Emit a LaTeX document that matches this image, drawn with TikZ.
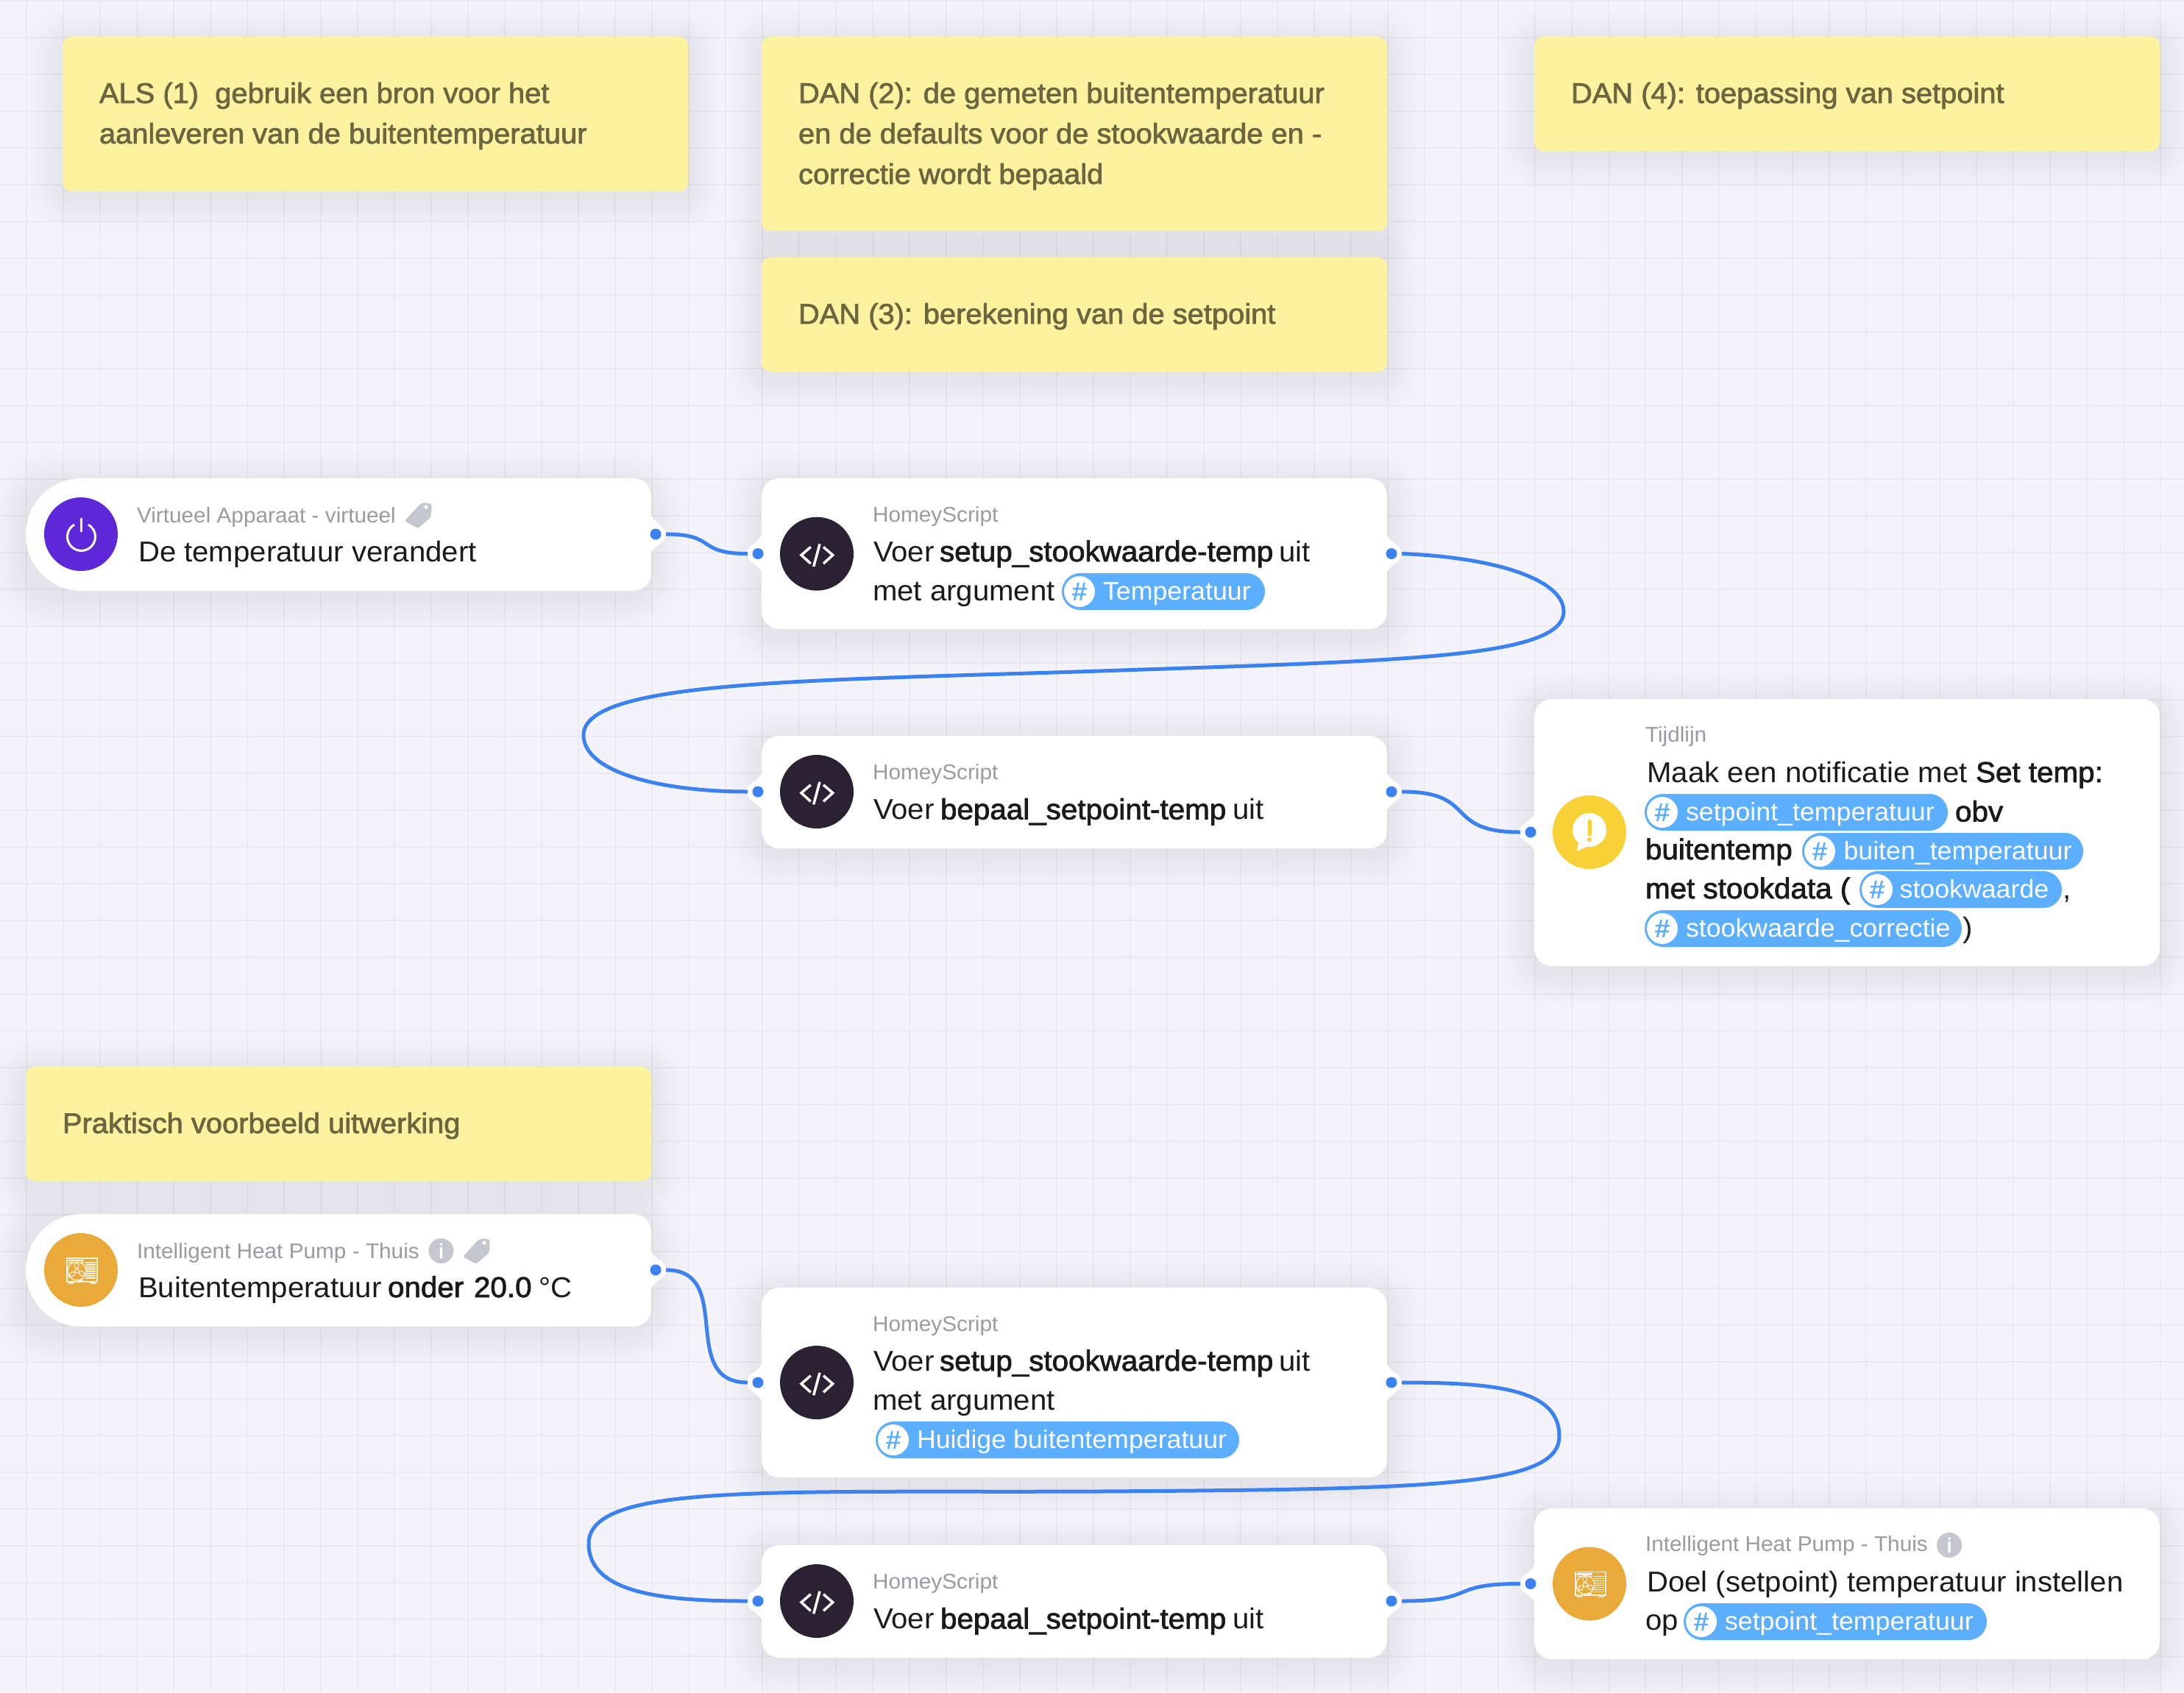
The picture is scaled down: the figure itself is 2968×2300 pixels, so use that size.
\documentclass[tikz,border=0pt]{standalone}
\usepackage{fontspec}
\setmainfont{Liberation Sans}[FakeStretch=1.03]
\newfontface\medf{Liberation Sans}[FakeBold=2,FakeStretch=1.03]
\definecolor{bgc}{HTML}{F3F3F9}
\definecolor{gridc}{HTML}{E9E9F0}
\definecolor{notec}{HTML}{FDF29F}
\definecolor{notetxtc}{HTML}{6B6640}
\definecolor{tagc}{HTML}{5CAEFF}
\definecolor{linec}{HTML}{3B82F0}
\definecolor{mainc}{HTML}{1A1A1C}
\definecolor{smallc}{HTML}{9A9AA2}
\definecolor{greyi}{HTML}{C5C6CF}
\definecolor{purplec}{HTML}{5E28D9}
\definecolor{darkc}{HTML}{2A2233}
\definecolor{yellowc}{HTML}{F8D136}
\definecolor{orangec}{HTML}{E9AA39}
\tikzset{
  textnode/.style={anchor=base west,inner sep=0pt,outer sep=0pt},
  maintxt/.style={textnode,text=mainc,font=\fontsize{39}{39}\selectfont},
  medtxt/.style={textnode,text=mainc,font=\fontsize{39.2}{39}\selectfont\medf},
  smalltxt/.style={textnode,text=smallc,font=\fontsize{28.9}{30}\selectfont},
  notetxt/.style={textnode,text=notetxtc,font=\fontsize{38.7}{38}\selectfont\medf},
  tagtxt/.style={textnode,text=white,font=\fontsize{34.7}{36}\selectfont},
  cardbox/.style={rectangle,fill=white,rounded corners=24pt,inner sep=0pt,outer sep=0pt},
  notebox/.style={rectangle,fill=notec,rounded corners=12pt,inner sep=0pt,outer sep=0pt},
  iconc/.style={circle,minimum size=100pt,inner sep=0pt,outer sep=0pt},
  portn/.style={circle,minimum size=28pt,inner sep=0pt,outer sep=0pt},
  portdot/.style={circle,fill=linec,minimum size=15pt,inner sep=0pt},
  conn/.style={draw=linec,line width=5pt,line cap=butt},
  hash/.style={circle,fill=white,minimum size=42pt,inner sep=0pt,text=tagc,font=\fontsize{34}{34}\selectfont\medf},
  infoc/.style={circle,fill=greyi,minimum size=34pt,inner sep=0pt,text=white,font=\fontsize{28}{28}\selectfont\medf},
}
\newcommand\softshadow[5]{%
  \foreach \s in {3,6,...,45}{%
    \fill[black,opacity=.0042,rounded corners={#5+\s*1pt}] ({#1-\s},{#2-\s+8}) rectangle ({#3+\s},{#4+\s+8});
  }}
\newcommand\bump[3]{%
  \fill[white] (#1,{#2-25}) .. controls ({#1+#3*5},{#2-14}) and ({#1+#3*20},{#2-12}) .. ({#1+#3*20},#2)
     .. controls ({#1+#3*20},{#2+12}) and ({#1+#3*5},{#2+14}) .. (#1,{#2+25}) -- cycle;}
\newcommand\tagpill[6]{% name x0 x1 ytop textx text
  \fill[tagc,rounded corners=25pt] (#2,#4) rectangle (#3,{#4+50});
  \node[hash] (#1c) at ({#2+24},{#4+25}) {\#};
  \node[tagtxt] (#1) at (#5,{#4+36}) {#6};}
\newcommand\codeicon[2]{%
  \begin{scope}[shift={(#1,#2)},draw=white,line width=3.5pt]
    \draw (-8.3,-9.3) -- (-21,1.7) -- (-8.3,13.3);
    \draw (4,-13.3) -- (-4.3,17.3);
    \draw (9,-9.3) -- (21.7,1.7) -- (9,13.3);
  \end{scope}}
\newcommand\pumpicon[2]{%
  \begin{scope}[shift={(#1,#2)},draw=white!85!orangec,line width=1.2pt]
    \draw[line width=1.6pt] (-19,-16) rectangle (21.7,15.7);
    \fill[white!85!orangec] (-17,-14.5) rectangle (4,-12);
    \foreach \yy in {-10,-7,...,12}{\draw (6,\yy) -- (20,\yy);}
    \foreach \yy in {-10,-6,...,12}{\draw (-17,\yy) -- (4,\yy);}
    \fill[orangec] (-5.5,1.5) circle (12.5);
    \draw (-5.5,1.5) circle (12.5);
    \draw (-5.5,1.5) circle (3);
    \foreach \a in {90,210,330}{\draw[rotate around={\a:(-5.5,1.5)}] (-2.5,1.5) .. controls (0,-3) and (5,-3) .. (6,1.5) .. controls (4,5) and (0,4) .. (-2.5,1.5);}
    \fill[white!85!orangec] (-4,12.8) rectangle (3,14.6);
    \draw[line width=1.6pt] (-16,15.7) -- (-16,18) -- (-11,18) -- (-11,15.7);
    \draw[line width=1.6pt] (14,15.7) -- (14,18) -- (19,18) -- (19,15.7);
  \end{scope}}
\newcommand\tagicon[2]{%
  \begin{scope}[shift={(#1,#2)}]
    \fill[greyi,rounded corners=2.5pt] (9,-17) -- (19,-15) -- (17.5,3) -- (0,18) -- (-18,8) -- (3,-15) -- cycle;
    \fill[white] (11,-11) circle (2.6);
  \end{scope}}
\newcommand\triggercard[3]{% x-left y-top y-bottom
  \softshadow{#1}{#2}{885}{#3}{40pt}
  \fill[white,rounded corners=76pt] (#1,#2) -- (#1,#3) -- (300,#3) -- (300,#2) -- cycle;
  \fill[white,rounded corners=24pt] (200,#2) rectangle (885,#3);}
\begin{document}
\begin{tikzpicture}[x=1pt,y=-1pt]
\useasboundingbox (0,0) rectangle (2968,2300);
\fill[bgc] (0,0) rectangle (2968,2300);
\foreach \x in {36,86,...,2936}{\draw[gridc,line width=1.8pt] (\x,0) -- (\x,2300);}
\foreach \y in {1,51,...,2251}{\draw[gridc,line width=1.8pt] (0,\y) -- (2968,\y);}

% ---- sticky notes
\softshadow{85}{50}{935}{260}{12pt}
\node[notebox,minimum width=850pt,minimum height=210pt] (note1) at (510,155) {};
\softshadow{1035}{50}{1885}{314}{12pt}
\node[notebox,minimum width=850pt,minimum height=264pt] (note2) at (1460,182) {};
\softshadow{2085}{50}{2935}{205}{12pt}
\node[notebox,minimum width=850pt,minimum height=155pt] (note4) at (2510,127.5) {};
\softshadow{1035}{350}{1885}{505}{12pt}
\node[notebox,minimum width=850pt,minimum height=155pt] (note3) at (1460,427.5) {};
\softshadow{35}{1450}{885}{1605}{12pt}
\node[notebox,minimum width=850pt,minimum height=155pt] (note5) at (460,1527.5) {};

\node[notetxt] (n1a) at (135,140) {ALS (1)\ \ gebruik een bron voor het};
\node[notetxt] (n1b) at (135,195) {aanleveren van de buitentemperatuur};
\node[notetxt] (n2a) at (1085,140) {DAN (2): de gemeten buitentemperatuur};
\node[notetxt] (n2b) at (1085,195) {en de defaults voor de stookwaarde en -};
\node[notetxt] (n2c) at (1085,250) {correctie wordt bepaald};
\node[notetxt] (n4a) at (2135,140) {DAN (4): toepassing van setpoint};
\node[notetxt] (n3a) at (1085,440) {DAN (3): berekening van de setpoint};
\node[notetxt] (n5a) at (85,1540) {Praktisch voorbeeld uitwerking};

% ---- trigger 1
\triggercard{35}{650}{803}
\bump{885}{726}{1}
\node[iconc,fill=purplec] (i1) at (110,726) {};
\draw[white,line width=3pt] (101,713) arc[start angle=-120,end angle=-420,radius=19];
\draw[white,line width=3pt,line cap=round] (110,705) -- (110,722);
\node[smalltxt] (t1a) at (186,710) {Virtueel Apparaat - virtueel};
\tagicon{568}{700}
\node[maintxt] (t1b) at (188,763) {De temperatuur verandert};

% ---- script 1
\softshadow{1035}{650}{1885}{855}{24pt}
\bump{1035}{752.5}{-1}\bump{1885}{752.5}{1}
\node[cardbox,minimum width=850pt,minimum height=205pt] (a1) at (1460,752.5) {};
\node[iconc,fill=darkc] (i2) at (1110,752.7) {};
\codeicon{1110}{752.7}
\node[smalltxt] (a1a) at (1186,709) {HomeyScript};
\node[maintxt] (a1b) at (1187,763) {Voer};
\node[medtxt] (a1c) at (1277,763) {setup\_stookwaarde-temp};
\node[maintxt] (a1d) at (1738,763) {uit};
\node[maintxt] (a1e) at (1186,816) {met argument};
\tagpill{a1t}{1443}{1719}{779}{1499}{Temperatuur}

% ---- script 2
\softshadow{1035}{1000}{1885}{1153}{24pt}
\bump{1035}{1076}{-1}\bump{1885}{1076}{1}
\node[cardbox,minimum width=850pt,minimum height=153pt] (a2) at (1460,1076.5) {};
\node[iconc,fill=darkc] (i3) at (1110,1076) {};
\codeicon{1110}{1076}
\node[smalltxt] (a2a) at (1186,1059) {HomeyScript};
\node[maintxt] (a2b) at (1187,1113.5) {Voer};
\node[medtxt] (a2c) at (1278,1113.5) {bepaal\_setpoint-temp};
\node[maintxt] (a2d) at (1675,1113.5) {uit};

% ---- timeline card
\softshadow{2085}{950}{2935}{1313}{24pt}
\bump{2085}{1131}{-1}
\node[cardbox,minimum width=850pt,minimum height=363pt] (tc) at (2510,1131.5) {};
\node[iconc,fill=yellowc] (i4) at (2160,1131) {};
\fill[white] (2160,1128) circle (23);
\fill[white] (2146,1140) -- (2143,1157) -- (2162,1148) -- cycle;
\draw[yellowc,line width=5pt,line cap=round] (2160,1116) -- (2160,1134);
\fill[yellowc] (2160,1141) circle (3);
\node[smalltxt] (tca) at (2236,1008) {Tijdlijn};
\node[maintxt] (tcb) at (2238.5,1063) {Maak een notificatie met};
\node[medtxt] (tcc) at (2685,1063) {Set temp:};
\tagpill{tct1}{2235}{2647}{1079}{2291}{setpoint\_temperatuur}
\node[medtxt] (tcd) at (2657,1116.5) {obv};
\node[medtxt] (tce) at (2236,1168) {buitentemp};
\tagpill{tct2}{2449}{2831}{1132}{2505.5}{buiten\_temperatuur}
\node[medtxt] (tcf) at (2236,1221) {met stookdata (};
\tagpill{tct3}{2527}{2802}{1184}{2581.6}{stookwaarde}
\node[maintxt] (tcg) at (2803,1221) {,};
\tagpill{tct4}{2235}{2666}{1237}{2291}{stookwaarde\_correctie}
\node[maintxt] (tch) at (2667,1274) {)};

% ---- trigger 2
\triggercard{35}{1650}{1803}
\bump{885}{1726}{1}
\node[iconc,fill=orangec] (i5) at (110,1726) {};
\pumpicon{110}{1726}
\node[smalltxt] (t2a) at (186,1710) {Intelligent Heat Pump - Thuis};
\node[infoc] (t2i) at (599.5,1700) {i};
\tagicon{647}{1700}
\node[maintxt] (t2b) at (188,1763) {Buitentemperatuur};
\node[medtxt] (t2c) at (527,1763) {onder};
\node[medtxt] (t2d) at (644,1763) {20.0};
\node[maintxt] (t2e) at (732,1763) {°C};

% ---- script 3
\softshadow{1035}{1750}{1885}{2008}{24pt}
\bump{1035}{1879}{-1}\bump{1885}{1879}{1}
\node[cardbox,minimum width=850pt,minimum height=258pt] (a3) at (1460,1879) {};
\node[iconc,fill=darkc] (i6) at (1110,1879) {};
\codeicon{1110}{1879}
\node[smalltxt] (a3a) at (1186,1809) {HomeyScript};
\node[maintxt] (a3b) at (1187,1863) {Voer};
\node[medtxt] (a3c) at (1277,1863) {setup\_stookwaarde-temp};
\node[maintxt] (a3d) at (1738,1863) {uit};
\node[maintxt] (a3e) at (1186,1916) {met argument};
\tagpill{a3t}{1190}{1684}{1932}{1246}{Huidige buitentemperatuur}

% ---- script 4
\softshadow{1035}{2100}{1885}{2253}{24pt}
\bump{1035}{2176}{-1}\bump{1885}{2176}{1}
\node[cardbox,minimum width=850pt,minimum height=153pt] (a4) at (1460,2176.5) {};
\node[iconc,fill=darkc] (i7) at (1110,2176) {};
\codeicon{1110}{2176}
\node[smalltxt] (a4a) at (1186,2159) {HomeyScript};
\node[maintxt] (a4b) at (1187,2213.5) {Voer};
\node[medtxt] (a4c) at (1278,2213.5) {bepaal\_setpoint-temp};
\node[maintxt] (a4d) at (1675,2213.5) {uit};

% ---- heat pump action
\softshadow{2085}{2050}{2935}{2255}{24pt}
\bump{2085}{2152.5}{-1}
\node[cardbox,minimum width=850pt,minimum height=205pt] (hc) at (2510,2152.5) {};
\node[iconc,fill=orangec] (i8) at (2160,2152.5) {};
\pumpicon{2160}{2152.5}
\node[smalltxt] (hca) at (2236,2108) {Intelligent Heat Pump - Thuis};
\node[infoc] (hci) at (2649,2100) {i};
\node[maintxt] (hcb) at (2238,2163) {Doel (setpoint) temperatuur instellen};
\node[maintxt] (hcc) at (2236,2215) {op};
\tagpill{hct}{2288}{2700}{2179}{2344}{setpoint\_temperatuur}

% ---- ports
\node[portn] (p1o) at (891,726) {};
\node[portn] (p2i) at (1030,752.5) {};
\node[portn] (p2o) at (1891,752.5) {};
\node[portn] (p3i) at (1030,1076) {};
\node[portn] (p3o) at (1891,1076) {};
\node[portn] (p4i) at (2080,1131) {};
\node[portn] (p5o) at (891,1726) {};
\node[portn] (p6i) at (1030,1879) {};
\node[portn] (p6o) at (1891,1879) {};
\node[portn] (p7i) at (1030,2176) {};
\node[portn] (p7o) at (1891,2176) {};
\node[portn] (p8i) at (2080,2152.5) {};
\foreach \p in {p1o,p2i,p2o,p3i,p3o,p4i,p5o,p6i,p6o,p7i,p7o,p8i}{\node[portdot] (d\p) at (\p) {};}

% ---- connectors
\draw[conn] (p1o.east) .. controls (975,726) and (945,752.5) .. (p2i.west);
\draw[conn] (p2o.east) .. controls (2040,758) and (2125,790) .. (2125,831)
   .. controls (2125,895) and (1900,898) .. (1494,912)
   .. controls (1100,925) and (793,925) .. (793,999)
   .. controls (793,1050) and (900,1076) .. (p3i.west);
\draw[conn] (p3o.east) .. controls (2010,1076) and (1960,1131) .. (p4i.west);
\draw[conn] (p5o.east) .. controls (1000,1726) and (920,1879) .. (p6i.west);
\draw[conn] (p6o.east) .. controls (2040,1879) and (2119,1890) .. (2119,1952)
   .. controls (2119,2020) and (1950,2024) .. (1494,2027)
   .. controls (1050,2029) and (800,2015) .. (800,2098)
   .. controls (800,2165) and (900,2176) .. (p7i.west);
\draw[conn] (p7o.east) .. controls (2010,2176) and (1965,2152.5) .. (p8i.west);
\end{tikzpicture}
\end{document}
